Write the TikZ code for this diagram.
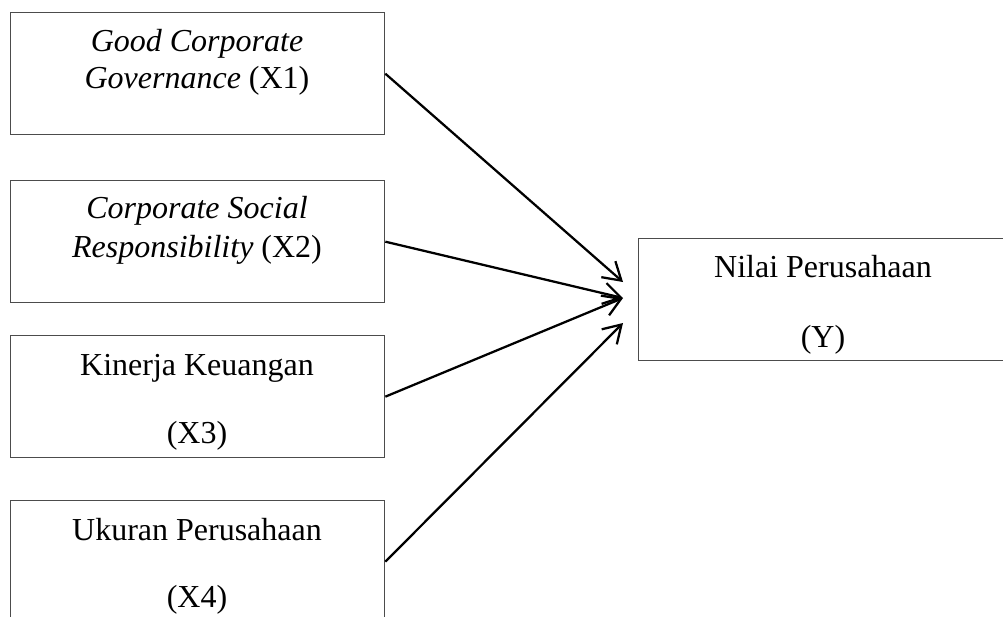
\documentclass[tikz,border=0pt]{standalone}
\usepackage{fontspec}
\setmainfont{Liberation Serif}
\usetikzlibrary{arrows.meta}
\begin{document}
\begin{tikzpicture}[x=0.375pt,y=-0.375pt,
  box/.style={draw=black!70,line width=0.5pt,minimum width=140.25pt,minimum height=45.75pt,inner sep=0pt,anchor=north west},
  lbl/.style={anchor=base,inner sep=0pt,font=\fontsize{12pt}{14pt}\selectfont},
  conn/.style={line width=0.85pt,-{Straight Barb[length=6.5pt,width=8pt,line width=0.85pt]}}]
\useasboundingbox (0,0) rectangle (1003,616);
\node[box] (x1) at (10,12) {};
\node[box] (x2) at (10,180) {};
\node[box] (x3) at (10,335) {};
\node[box] (x4) at (10,500) {};
\node[box,minimum width=138pt] (y) at (638,238) {};
\node[lbl] (x1a) at (197,51.7) {\itshape Good Corporate};
\node[lbl] (x1b) at (197,88.7) {\textit{Governance} (X1)};
\node[lbl] (x2a) at (197,218) {\itshape Corporate Social};
\node[lbl] (x2b) at (197,257) {\textit{Responsibility} (X2)};
\node[lbl] (x3a) at (197,375) {Kinerja Keuangan};
\node[lbl] (x3b) at (197,443) {(X3)};
\node[lbl] (x4a) at (197,540) {Ukuran Perusahaan};
\node[lbl] (x4b) at (197,607) {(X4)};
\node[lbl] (ya) at (823,277) {Nilai Perusahaan};
\node[lbl] (yb) at (823,347) {(Y)};
\coordinate (e1) at (623,282);
\coordinate (e2) at (623,298);
\coordinate (e4) at (623,323);
\draw[conn] (x1.east) -- (e1);
\draw[conn] (x2.east) -- (e2);
\draw[conn] (x3.east) -- (e2);
\draw[conn] (x4.east) -- (e4);
\end{tikzpicture}
\end{document}
